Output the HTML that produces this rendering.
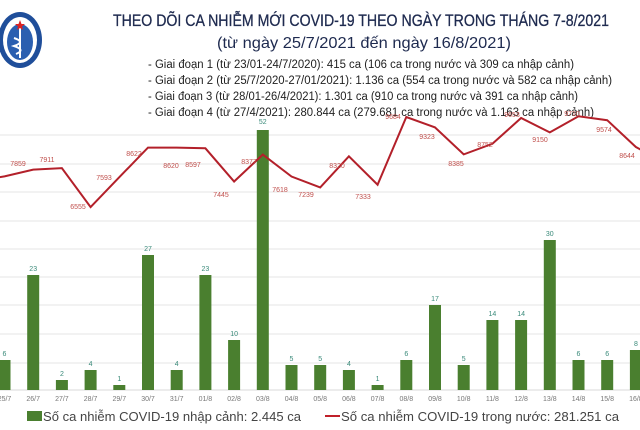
<!DOCTYPE html>
<html><head><meta charset="utf-8"><style>
html,body{margin:0;padding:0;background:#fff;}
svg{display:block;font-family:"Liberation Sans",sans-serif;}
</style></head><body>
<svg width="640" height="430" viewBox="0 0 640 430" xmlns="http://www.w3.org/2000/svg">
<rect width="640" height="430" fill="#fff"/>
<!-- logo -->
<ellipse cx="20" cy="40" rx="22" ry="28" fill="#1f4e9a"/>
<ellipse cx="20" cy="40" rx="17" ry="23" fill="#fff"/>
<ellipse cx="20" cy="42" rx="13" ry="18" fill="#2b5fb0"/>
<path d="M20 28 L20 58 M14 38 Q26 42 14 46 Q26 50 16 54" stroke="#fff" stroke-width="2" fill="none"/>
<polygon points="20,20 21.5,24 25,24 22,26.5 23,30 20,28 17,30 18,26.5 15,24 18.5,24" fill="#d22"/>
<!-- title -->
<text x="361" y="26" font-size="17" fill="#1e2a4f" stroke="#1e2a4f" stroke-width="0.3" text-anchor="middle" textLength="496" lengthAdjust="spacingAndGlyphs">THEO DÕI CA NHIỄM MỚI COVID-19 THEO NGÀY TRONG THÁNG 7-8/2021</text>
<text x="364" y="48" font-size="16" fill="#1e2a4f" text-anchor="middle" textLength="294" lengthAdjust="spacingAndGlyphs">(từ ngày 25/7/2021 đến ngày 16/8/2021)</text>
<g font-size="11.5" fill="#222">
<text x="148" y="68" textLength="426" lengthAdjust="spacingAndGlyphs">- Giai đoạn 1 (từ 23/01-24/7/2020): 415 ca (106 ca trong nước và 309 ca nhập cảnh)</text>
<text x="148" y="84" textLength="464" lengthAdjust="spacingAndGlyphs">- Giai đoạn 2 (từ 25/7/2020-27/01/2021): 1.136 ca (554 ca trong nước và 582 ca nhập cảnh)</text>
<text x="148" y="100" textLength="430" lengthAdjust="spacingAndGlyphs">- Giai đoạn 3 (từ 28/01-26/4/2021): 1.301 ca (910 ca trong nước và 391 ca nhập cảnh)</text>
<text x="148" y="116" textLength="446" lengthAdjust="spacingAndGlyphs">- Giai đoạn 4 (từ 27/4/2021): 280.844 ca (279.681 ca trong nước và 1.163 ca nhập cảnh)</text>
</g>
<!-- grid -->
<g stroke="#e6e6e6" stroke-width="1">
<line x1="0" y1="135" x2="640" y2="135"/><line x1="0" y1="164" x2="640" y2="164"/>
<line x1="0" y1="192" x2="640" y2="192"/><line x1="0" y1="221" x2="640" y2="221"/>
<line x1="0" y1="249" x2="640" y2="249"/><line x1="0" y1="277" x2="640" y2="277"/>
<line x1="0" y1="305" x2="640" y2="305"/><line x1="0" y1="334" x2="640" y2="334"/>
<line x1="0" y1="363" x2="640" y2="363"/><line x1="0" y1="390" x2="640" y2="390" stroke="#d8d8d8"/>
</g>
<!-- bars -->
<g fill="#4a7f2f">
<rect x="-1.5" y="360" width="12" height="30"/>
<rect x="27.2" y="275" width="12" height="115"/>
<rect x="55.9" y="380" width="12" height="10"/>
<rect x="84.6" y="370" width="12" height="20"/>
<rect x="113.3" y="385" width="12" height="5"/>
<rect x="142" y="255" width="12" height="135"/>
<rect x="170.7" y="370" width="12" height="20"/>
<rect x="199.4" y="275" width="12" height="115"/>
<rect x="228.1" y="340" width="12" height="50"/>
<rect x="256.8" y="130" width="12" height="260"/>
<rect x="285.5" y="365" width="12" height="25"/>
<rect x="314.2" y="365" width="12" height="25"/>
<rect x="342.9" y="370" width="12" height="20"/>
<rect x="371.6" y="385" width="12" height="5"/>
<rect x="400.3" y="360" width="12" height="30"/>
<rect x="429" y="305" width="12" height="85"/>
<rect x="457.7" y="365" width="12" height="25"/>
<rect x="486.4" y="320" width="12" height="70"/>
<rect x="515.1" y="320" width="12" height="70"/>
<rect x="543.8" y="240" width="12" height="150"/>
<rect x="572.5" y="360" width="12" height="30"/>
<rect x="601.2" y="360" width="12" height="30"/>
<rect x="629.9" y="350" width="12" height="40"/>
</g>
<g font-size="7" fill="#3a8a7a" text-anchor="middle">
<text x="4.5" y="356">6</text><text x="33.2" y="271">23</text><text x="61.9" y="376">2</text>
<text x="90.6" y="366">4</text><text x="119.3" y="381">1</text><text x="148" y="251">27</text>
<text x="176.7" y="366">4</text><text x="205.4" y="271">23</text><text x="234.1" y="336">10</text>
<text x="262.8" y="124">52</text><text x="291.5" y="361">5</text><text x="320.2" y="361">5</text>
<text x="348.9" y="366">4</text><text x="377.6" y="381">1</text><text x="406.3" y="356">6</text>
<text x="435" y="301">17</text><text x="463.7" y="361">5</text><text x="492.4" y="316">14</text>
<text x="521.1" y="316">14</text><text x="549.8" y="236">30</text><text x="578.5" y="356">6</text>
<text x="607.2" y="356">6</text><text x="636" y="346">8</text>
</g>
<!-- line -->
<polyline fill="none" stroke="#b3202a" stroke-width="2" stroke-linejoin="miter" points="-5,178 4.5,176.4 33.2,169.6 61.9,168.1 90.6,207.1 119.3,177.2 148,147.6 176.7,147.6 205.4,148.3 234.1,181.5 262.8,154.6 291.5,176.5 320.2,187.4 348.9,156.3 377.6,184.7 406.3,117 435,127.4 463.7,154.4 492.4,143.8 521.1,118 549.8,132.4 578.5,116.3 607.2,120.2 635.9,147 645,152"/>
<g font-size="7" fill="#c0504d" text-anchor="middle">
<text x="18" y="166">7859</text><text x="47" y="162">7911</text><text x="78" y="209">6555</text>
<text x="104" y="180">7593</text><text x="134" y="156">8622</text><text x="171" y="168">8620</text>
<text x="193" y="167">8597</text><text x="221" y="197">7445</text><text x="249" y="164">8377</text>
<text x="280" y="192">7618</text><text x="306" y="197">7239</text><text x="337" y="168">8320</text>
<text x="363" y="199">7333</text><text x="393" y="119">9684</text><text x="427" y="139">9323</text>
<text x="456" y="166">8385</text><text x="485" y="147">8752</text><text x="512" y="117">9653</text>
<text x="540" y="142">9150</text><text x="572" y="116">9710</text><text x="604" y="132">9574</text>
<text x="627" y="158">8644</text>
</g>
<!-- axis labels -->
<g font-size="7" fill="#777" text-anchor="middle">
<text x="4.5" y="401">25/7</text><text x="33.2" y="401">26/7</text><text x="61.9" y="401">27/7</text>
<text x="90.6" y="401">28/7</text><text x="119.3" y="401">29/7</text><text x="148" y="401">30/7</text>
<text x="176.7" y="401">31/7</text><text x="205.4" y="401">01/8</text><text x="234.1" y="401">02/8</text>
<text x="262.8" y="401">03/8</text><text x="291.5" y="401">04/8</text><text x="320.2" y="401">05/8</text>
<text x="348.9" y="401">06/8</text><text x="377.6" y="401">07/8</text><text x="406.3" y="401">08/8</text>
<text x="435" y="401">09/8</text><text x="463.7" y="401">10/8</text><text x="492.4" y="401">11/8</text>
<text x="521.1" y="401">12/8</text><text x="549.8" y="401">13/8</text><text x="578.5" y="401">14/8</text>
<text x="607.2" y="401">15/8</text><text x="635.9" y="401">16/8</text>
</g>
<!-- legend -->
<rect x="27" y="411" width="15" height="10" fill="#4a7f2f"/>
<text x="43" y="421" font-size="13" fill="#444" textLength="258" lengthAdjust="spacingAndGlyphs">Số ca nhiễm COVID-19 nhập cảnh: 2.445 ca</text>
<line x1="325" y1="416" x2="340" y2="416" stroke="#c0202a" stroke-width="2"/>
<text x="341" y="421" font-size="13" fill="#444" textLength="278" lengthAdjust="spacingAndGlyphs">Số ca nhiễm COVID-19 trong nước: 281.251 ca</text>
</svg>
</body></html>
